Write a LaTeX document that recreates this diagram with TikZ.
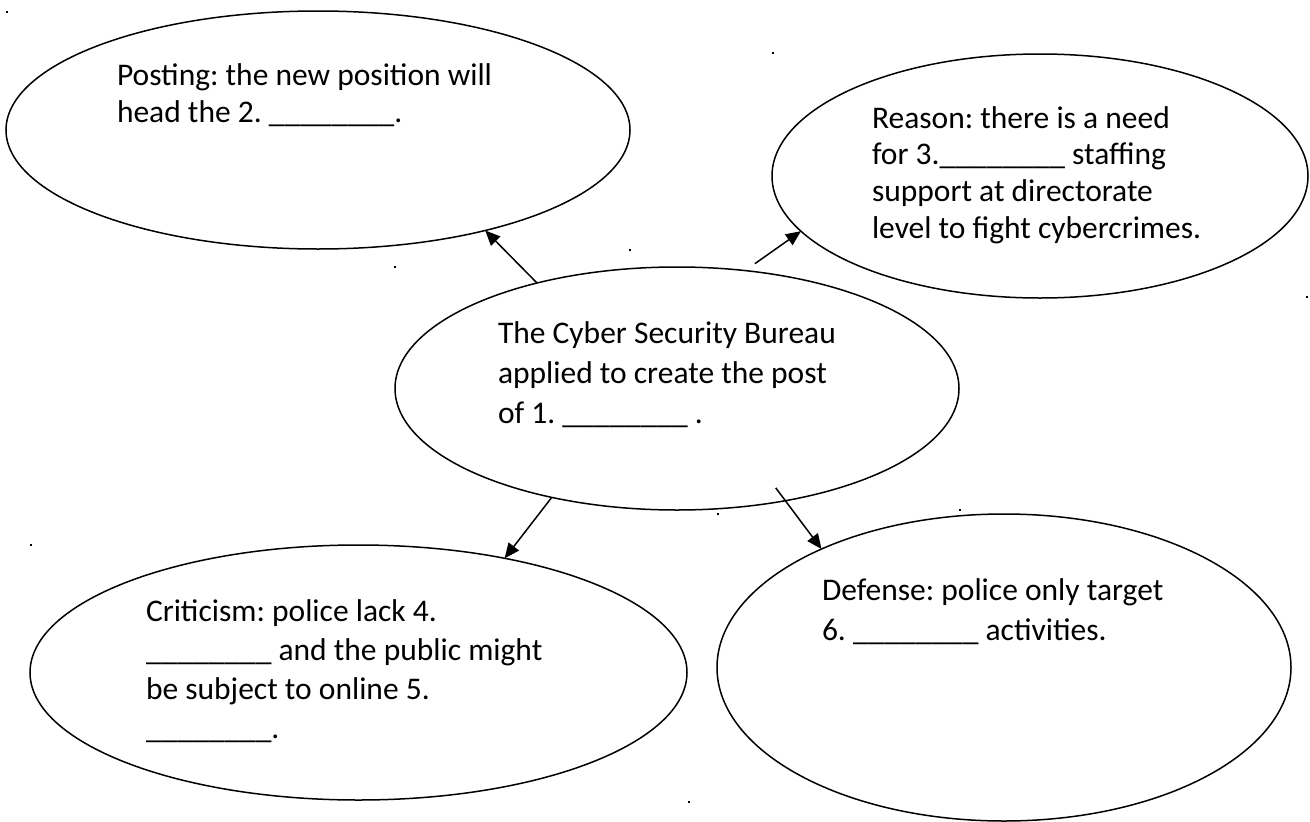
\documentclass[tikz,border=0pt]{standalone}
\usepackage{fontspec}
\setmainfont{Carlito}
\usetikzlibrary{arrows.meta,shapes.geometric}
\frenchspacing
\newcommand{\blankline}{\textunderscore\textunderscore\textunderscore\textunderscore\textunderscore\textunderscore\textunderscore\textunderscore}
\begin{document}
\frenchspacing
\begin{tikzpicture}[x=1pt,y=-1pt,
  bubble/.style={draw=black, line width=1.5pt, ellipse, inner sep=0pt, outer sep=0pt},
  conn/.style={draw=black, line width=1.5pt, -{Triangle[length=15pt,width=13pt]}},
  label/.style={anchor=base west, align=left, inner sep=0pt, outer sep=0pt},
  speck/.style={fill=black}]
\useasboundingbox (0,0) rectangle (1310,822);
% bubbles
\node[bubble, minimum width=624pt, minimum height=238pt] (tl) at (318,130) {};
\node[bubble, minimum width=536pt, minimum height=244pt] (tr) at (1040,176) {};
\node[bubble, minimum width=564pt, minimum height=243pt] (c) at (677,388.5) {};
\node[bubble, minimum width=657pt, minimum height=255pt] (bl) at (358.5,672.5) {};
\node[bubble, minimum width=574pt, minimum height=307pt] (br) at (1004,667.5) {};
% texts (anchored at the baseline of their last line)
\node[label, font={\fontsize{31.5}{37}\selectfont}] (t2) at (117,122)
  {Posting: the new position will\\head the 2. \blankline.};
\node[label, font={\fontsize{31.5}{36.8}\selectfont}] (t3) at (872,238.4)
  {Reason: there is a need\\for 3.\blankline{} staffing\\support at directorate\\level to fight cybercrimes.};
\node[label, font={\fontsize{31.5}{40}\selectfont}] (t1) at (498,423)
  {The Cyber Security Bureau\\applied to create the post\\of 1. \blankline{} .};
\node[label, font={\fontsize{31.5}{38.7}\selectfont}] (t4) at (146,738)
  {Criticism: police lack 4.\\\blankline{} and the public might\\be subject to online 5.\\\blankline.};
\node[label, font={\fontsize{31.5}{40}\selectfont}] (t6) at (822,640)
  {Defense: police only target\\6. \blankline{} activities.};
% connectors
\draw[conn] (c.143.4) -- (tl.-31.4);
\draw[conn, shorten <=12pt] (c.60.8) -- (tr.193.2);
\draw[conn] (c.221.06) -- (bl.38.6);
\draw[conn, shorten <=-16pt] (c.-46.94) -- (br.147.3);
% specks
\foreach \px/\py in {7/12, 773/53, 395/267, 630/250, 718/514, 960/510, 1307/297, 31/545, 689/802}
  \fill[speck] (\px-1.2,\py-1.2) rectangle (\px+1.2,\py+1.2);
\end{tikzpicture}
\end{document}
